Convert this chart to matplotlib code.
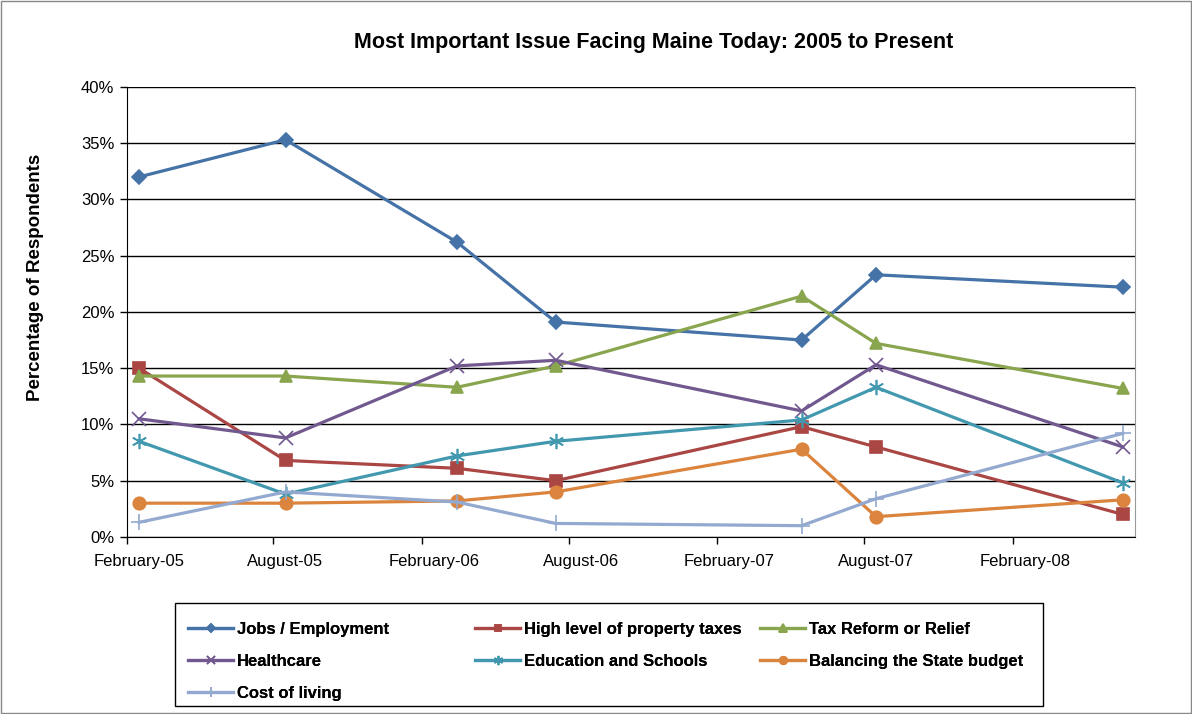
import matplotlib
matplotlib.use("Agg")
import matplotlib.pyplot as plt
from matplotlib.patches import Rectangle
from matplotlib.ticker import FuncFormatter, MultipleLocator
import pandas as pd

plt.rcParams['font.family'] = ['Liberation Sans', 'DejaVu Sans']

# survey months (points sit in the middle of each month, Excel date axis style)
survey_months = ['2005-02', '2005-08', '2006-03', '2006-07', '2007-05', '2007-08', '2008-06']

jobs = [32.0, 35.3, 26.2, 19.1, 17.5, 23.3, 22.2]
property_taxes = [15.0, 6.8, 6.1, 5.0, 9.8, 8.0, 2.0]
tax_reform = [14.3, 14.3, 13.3, 15.2, 21.4, 17.2, 13.2]
healthcare = [10.5, 8.8, 15.2, 15.7, 11.2, 15.3, 8.0]
education = [8.5, 3.8, 7.2, 8.5, 10.4, 13.3, 4.8]
state_budget = [3.0, 3.0, 3.2, 4.0, 7.8, 1.8, 3.3]
cost_of_living = [1.3, 4.0, 3.1, 1.2, 1.0, 3.4, 9.2]

tick_months = ['2005-02', '2005-08', '2006-02', '2006-08', '2007-02', '2007-08', '2008-02']
tick_labels = ['February-05', 'August-05', 'February-06', 'August-06',
               'February-07', 'August-07', 'February-08']

x = pd.to_datetime(survey_months) + pd.Timedelta(days=15)

fig = plt.figure(figsize=(11.92, 7.14), dpi=100)
ax = fig.add_axes([0.1065, 0.248, 0.8456, 0.6303])

series = [
    ('Jobs / Employment', jobs, '#4572A7', 'D', 7),
    ('High level of property taxes', property_taxes, '#AA4643', 's', 8),
    ('Tax Reform or Relief', tax_reform, '#89A54E', '^', 9),
    ('Healthcare', healthcare, '#71588F', 'x', 10),
    ('Education and Schools', education, '#4198AF', (6, 2, 0), 11),
    ('Balancing the State budget', state_budget, '#DB843D', 'o', 9),
    ('Cost of living', cost_of_living, '#93A9CF', '+', 11),
]

handles = {}
for name, vals, color, mk, ms in series:
    h, = ax.plot(x, vals, color=color, lw=2.3, marker=mk, markersize=ms,
                 markeredgewidth=1.2, markeredgecolor=color, markerfacecolor=color,
                 label=name, zorder=3)
    handles[name] = h

ax.set_ylim(0, 40)
ax.yaxis.set_major_locator(MultipleLocator(5))
ax.yaxis.set_major_formatter(FuncFormatter(lambda v, p: '%d%%' % v))
ax.set_xlim(pd.Timestamp('2005-02-01'), pd.Timestamp('2008-07-01'))

# ticks at month boundaries, labels in the middle of the month
major = pd.to_datetime(tick_months)
ax.set_xticks(major)
ax.set_xticklabels([])
ax.set_xticks(major + pd.Timedelta(days=15), minor=True)
ax.set_xticklabels(tick_labels, minor=True)
ax.tick_params(axis='x', which='minor', length=0, pad=12, labelsize=12)
ax.tick_params(axis='x', which='major', length=5, width=1, direction='out')
ax.tick_params(axis='y', length=5, width=1, direction='out', labelsize=12, pad=4)

ax.grid(axis='y', color='black', lw=1)
ax.set_axisbelow(True)
for s in ['left', 'bottom']:
    ax.spines[s].set_color('black')
ax.spines['right'].set_color('#999999')
ax.spines['top'].set_visible(False)

fig.text(0.030, 0.611, 'Percentage of Respondents', rotation=90,
         ha='center', va='center', fontsize=13.5, fontweight='bold')
fig.text(0.548, 0.94, 'Most Important Issue Facing Maine Today: 2005 to Present',
         ha='center', va='center', fontsize=15.5, fontweight='bold')

# legend: three equal-width columns inside one box (Excel style)
columns = [['Jobs / Employment', 'Healthcare', 'Cost of living'],
           ['High level of property taxes', 'Education and Schools'],
           ['Tax Reform or Relief', 'Balancing the State budget']]
col_x = [0.151, 0.3918, 0.6309]
for names, cx in zip(columns, col_x):
    lg = fig.legend([handles[n] for n in names], names, loc='upper left',
                    bbox_to_anchor=(cx, 0.1401), frameon=False, borderpad=0,
                    prop={'weight': 'bold', 'size': 12},
                    handlelength=2.7, markerscale=0.6,
                    labelspacing=1.02, handletextpad=0.2)
    fig.add_artist(lg)

fig.patches.append(Rectangle((0.1468, 0.0112), 0.7282, 0.1443, transform=fig.transFigure,
                             fill=False, edgecolor='black', lw=1))
fig.patches.append(Rectangle((0.001, 0.001), 0.998, 0.998, transform=fig.transFigure,
                             fill=False, edgecolor='#888888', lw=1))

fig.savefig('out.png', dpi=100)
